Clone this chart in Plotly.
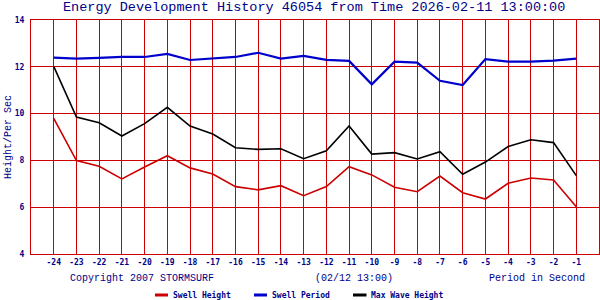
import plotly.graph_objects as go

hours = list(range(-24, 0))
swell_height = [9.8, 7.99, 7.75, 7.21, 7.72, 8.2, 7.68, 7.42, 6.88, 6.74, 6.92, 6.49,
                6.88, 7.73, 7.38, 6.85, 6.66, 7.33, 6.62, 6.35, 7.02, 7.25, 7.16, 6.02]
swell_period = [12.39, 12.35, 12.38, 12.42, 12.42, 12.55, 12.29, 12.35, 12.42, 12.6, 12.35, 12.47,
                12.3, 12.25, 11.25, 12.22, 12.18, 11.4, 11.22, 12.33, 12.22, 12.22, 12.26, 12.35]
max_wave = [12.02, 9.85, 9.61, 9.04, 9.57, 10.27, 9.47, 9.13, 8.54, 8.47, 8.5, 8.07,
            8.41, 9.47, 8.27, 8.33, 8.06, 8.37, 7.41, 7.93, 8.59, 8.88, 8.76, 7.35]
y_ticks = [4, 6, 8, 10, 12, 14]
x_ticks = list(range(-24, 0))

RED = "#cc0000"
BLUE = "#0000cc"
BLACK = "#000000"
NAVY = "#000088"
MONO = "DejaVu Sans Mono"
THIN = "Liberation Mono"

series = [("Swell Height", swell_height, RED, 1.6),
          ("Swell Period", swell_period, BLUE, 2.2),
          ("Max Wave Height", max_wave, BLACK, 1.6)]

fig = go.Figure()
for name, vals, col, w in series:
    fig.add_trace(go.Scatter(x=hours, y=vals, mode="lines", name=name,
                             line=dict(color=col, width=w), showlegend=False))

# plot area in pixels: x 31..599, y 20..254
L, R, T, B = 31, 599, 20, 254
def px(x):
    return (x - L) / (R - L)
def py(y):
    return (B - y) / (B - T)

annotations = [
    dict(text="Energy Development History 46054 from Time 2026-02-11 13:00:00",
         x=px(314), y=py(8), font=dict(family=THIN, size=13.5, color=NAVY)),
    dict(text="Copyright 2007 STORMSURF", x=px(141.5), y=py(278),
         font=dict(family=THIN, size=10, color=NAVY)),
    dict(text="(02/12 13:00)", x=px(354), y=py(278),
         font=dict(family=THIN, size=10, color=NAVY)),
    dict(text="Period in Second", x=px(537), y=py(278),
         font=dict(family=THIN, size=10, color=NAVY)),
    dict(text="Height/Per Sec", x=px(8), y=py(137), textangle=-90,
         font=dict(family=THIN, size=10, color=NAVY)),
]
for a in annotations:
    a.update(xref="paper", yref="paper", showarrow=False, xanchor="center", yanchor="middle")

shapes = []
legend_items = [(155, 168, 170.5), (254, 267, 269.5), (353, 366.5, 369)]
for (x0, x1, tx), (name, _, col, _) in zip(legend_items, series):
    shapes.append(dict(type="line", xref="paper", yref="paper", x0=px(x0), x1=px(x1),
                       y0=py(295), y1=py(295), line=dict(color=col, width=3)))
    annotations.append(dict(text="<b>%s</b>" % name, xref="paper", yref="paper", x=px(tx), y=py(295),
                            xanchor="left", yanchor="middle", showarrow=False,
                            font=dict(family=MONO, size=8, color=NAVY)))

fig.update_layout(
    width=600, height=300,
    margin=dict(l=L, r=600 - R, t=T, b=300 - B),
    paper_bgcolor="white", plot_bgcolor="white",
    annotations=annotations, shapes=shapes,
    xaxis=dict(range=[-25, 0], tickmode="array", tickvals=x_ticks,
               ticktext=["<b>%d</b>" % v for v in x_ticks],
               showgrid=True, gridcolor=RED, gridwidth=1,
               showline=True, linecolor=RED, linewidth=1, mirror=True,
               zeroline=False, ticks="",
               tickfont=dict(family=MONO, size=8, color=NAVY)),
    yaxis=dict(range=[4, 14], tickmode="array", tickvals=y_ticks,
               ticktext=["<b>%d</b>" % v for v in y_ticks],
               showgrid=True, gridcolor=RED, gridwidth=1,
               showline=True, linecolor=RED, linewidth=1, mirror=True,
               zeroline=False, ticks="", ticklabelstandoff=4,
               tickfont=dict(family=MONO, size=8, color=NAVY)),
)

fig.write_html("out.html")
